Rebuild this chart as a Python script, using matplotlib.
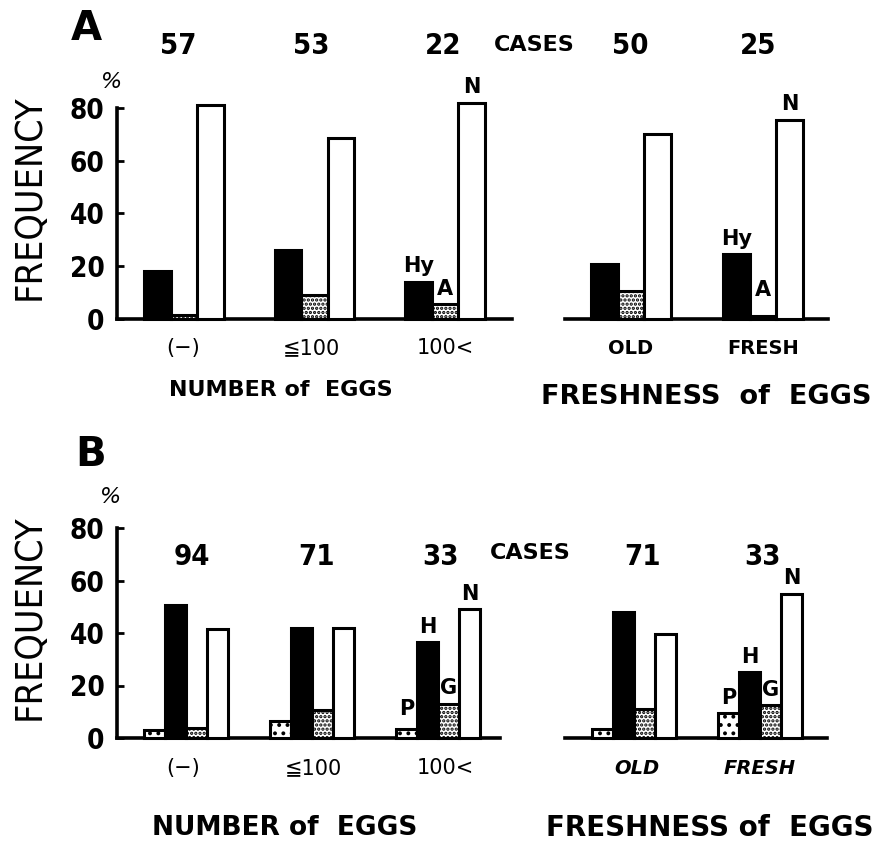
import numpy as np
import matplotlib
matplotlib.use('Agg')
import matplotlib.pyplot as plt
from matplotlib import font_manager

plt.rcParams['hatch.linewidth'] = 1.6
plt.rcParams['font.family'] = ['DejaVu Sans', 'Noto Sans CJK JP']

# ---- data ----
num_cats = ['(\u2212)', '\u2266100', '100<']
fresh_cats = ['OLD', 'FRESH']

# panel A : Hy / A / N
caseA_num = [57, 53, 22]
caseA_fresh = [50, 25]
A_num_Hy = [18, 26, 14]
A_num_A = [1.5, 9, 5.5]
A_num_N = [81, 68.5, 82]
A_fresh_Hy = [21, 24.5]
A_fresh_A = [10.5, 1]
A_fresh_N = [70, 75.5]

# panel B : P / H / G / N
caseB_num = [94, 71, 33]
caseB_fresh = [71, 33]
B_num_P = [3, 6.5, 3.5]
B_num_H = [50.5, 42, 36.5]
B_num_G = [4, 10.5, 13]
B_num_N = [41.5, 42, 49]
B_fresh_P = [3.5, 9.5]
B_fresh_H = [48, 25]
B_fresh_G = [11, 12.5]
B_fresh_N = [39.5, 55]

W, H = 890, 848
fig = plt.figure(figsize=(W / 100, H / 100), dpi=100)

# narrow bold digits, like the original typesetting
names = {f.name for f in font_manager.fontManager.ttflist}
NUM_FONT = [n for n in ['Liberation Sans Narrow', 'DejaVu Sans'] if n in names]
NUM_PROPS = dict(family=NUM_FONT, fontweight='bold', fontstretch='condensed')


def px(x, y):
    return x / W, 1 - y / H


def make_ax(x0, x1, y0, yscale, c0, spacing, show_y):
    # y0 = pixel row of value 0, yscale = px per unit
    top = y0 - 95 * yscale
    ax = fig.add_axes([x0 / W, 1 - y0 / H, (x1 - x0) / W, (y0 - top) / H])
    ax.set_ylim(0, 95)
    ax.set_xlim((x0 - c0) / spacing, (x1 - c0) / spacing)
    ax.patch.set_alpha(0)
    for s in ['top', 'right']:
        ax.spines[s].set_visible(False)
    ax.spines['bottom'].set_linewidth(2.6)
    ax.set_xticks([])
    if show_y:
        ax.spines['left'].set_linewidth(2.6)
        ax.spines['left'].set_bounds(0, 80)
        ax.set_yticks([0, 20, 40, 60, 80])
        ax.tick_params(axis='y', direction='in', length=5, width=2, pad=9)
        for t in ax.get_yticklabels():
            t.set_family(NUM_FONT)
            t.set_fontweight('bold')
            t.set_fontstretch('condensed')
            t.set_fontsize(20)
    else:
        ax.spines['left'].set_visible(False)
        ax.set_yticks([])
    return ax


STYLES = {
    'black': dict(color='black', edgecolor='black'),
    'dots': dict(color='white', edgecolor='black', hatch='....'),
    'sparse': dict(color='white', edgecolor='black', hatch='..'),
    'white': dict(color='white', edgecolor='black'),
}


def draw_group(ax, series, styles, labels, width):
    n = len(series)
    x = np.arange(len(series[0]))
    for i, (vals, st, lab) in enumerate(zip(series, styles, labels)):
        xs = x + (i - (n - 1) / 2) * width
        ax.bar(xs, vals, width=width, linewidth=2.2, clip_on=False, zorder=3, **STYLES[st])
        if lab:
            # label sits over the last group only
            ax.annotate(lab, (xs[-1], max(vals[-1], 5)), xytext=(0, 4),
                        textcoords='offset points', ha='center', va='bottom',
                        fontsize=15, fontweight='bold', zorder=5)


# ---------------- panel A ----------------
axA1 = make_ax(117, 512, 319, 2.64, 184, 130.5, True)
draw_group(axA1, [A_num_Hy, A_num_A, A_num_N], ['black', 'dots', 'white'],
           ['Hy', 'A', 'N'], 0.203)
axA2 = make_ax(565, 828, 319, 2.64, 631, 132, False)
draw_group(axA2, [A_fresh_Hy, A_fresh_A, A_fresh_N], ['black', 'dots', 'white'],
           ['Hy', 'A', 'N'], 0.2)

# ---------------- panel B ----------------
axB1 = make_ax(117, 500, 738, 2.625, 186, 126, True)
draw_group(axB1, [B_num_P, B_num_H, B_num_G, B_num_N],
           ['sparse', 'black', 'dots', 'white'], ['P', 'H', 'G', 'N'], 0.167)
axB2 = make_ax(565, 827, 738, 2.625, 634, 126, False)
draw_group(axB2, [B_fresh_P, B_fresh_H, B_fresh_G, B_fresh_N],
           ['sparse', 'black', 'dots', 'white'], ['P', 'H', 'G', 'N'], 0.167)

# ---------------- texts ----------------
fig.text(*px(86, 29), 'A', fontsize=29, fontweight='bold', ha='center', va='center')
fig.text(*px(91, 455), 'B', fontsize=29, fontweight='bold', ha='center', va='center')

for y in [197, 617]:
    fig.text(*px(30, y), 'FREQUENCY', fontsize=27, fontstretch='condensed',
             rotation=90, ha='center', va='center')
fig.text(*px(112, 82), '%', fontsize=16, style='italic', ha='center', va='center')
fig.text(*px(111, 497), '%', fontsize=16, style='italic', ha='center', va='center')

# case counts
for c, x in zip(caseA_num, [178, 311, 443]):
    fig.text(*px(x, 46), str(c), fontsize=21, ha='center', va='center', **NUM_PROPS)
for c, x in zip(caseA_fresh, [630, 758]):
    fig.text(*px(x, 46), str(c), fontsize=21, ha='center', va='center', **NUM_PROPS)
fig.text(*px(534, 45), 'CASES', fontsize=16, fontweight='bold', ha='center', va='center')

for c, x in zip(caseB_num, [192, 316, 441]):
    fig.text(*px(x, 557), str(c), fontsize=21, ha='center', va='center', **NUM_PROPS)
for c, x in zip(caseB_fresh, [642, 762]):
    fig.text(*px(x, 557), str(c), fontsize=21, ha='center', va='center', **NUM_PROPS)
fig.text(*px(530, 553), 'CASES', fontsize=16, fontweight='bold', ha='center', va='center')

# category labels
for lab, x in zip(num_cats, [183, 311, 445]):
    fig.text(*px(x, 348), lab, fontsize=15, ha='center', va='center')
for lab, x in zip(fresh_cats, [631, 763]):
    fig.text(*px(x, 348), lab, fontsize=14, fontweight='bold', ha='center', va='center')
for lab, x in zip(num_cats, [183, 313, 445]):
    fig.text(*px(x, 768), lab, fontsize=15, ha='center', va='center')
for lab, x in zip(fresh_cats, [637, 760]):
    fig.text(*px(x, 768), lab, fontsize=14, fontweight='bold', style='italic',
             ha='center', va='center')

fig.text(*px(281, 390), 'NUMBER of  EGGS', fontsize=16, fontweight='bold', ha='center', va='center')
fig.text(*px(706, 397), 'FRESHNESS  of  EGGS', fontsize=19.5, fontweight='bold', ha='center', va='center')
fig.text(*px(285, 828), 'NUMBER of  EGGS', fontsize=19, fontweight='bold', ha='center', va='center')
fig.text(*px(710, 828), 'FRESHNESS of  EGGS', fontsize=20, fontweight='bold', ha='center', va='center')

fig.savefig('out.png', dpi=100)
